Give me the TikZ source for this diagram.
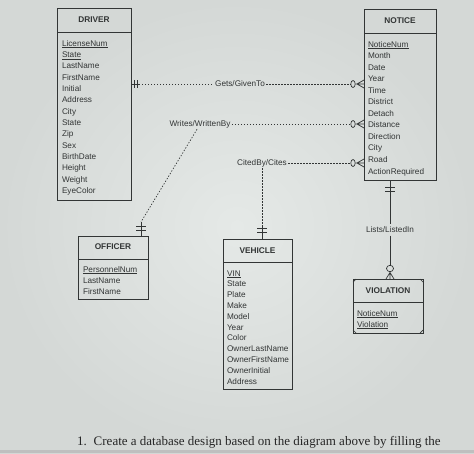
\documentclass[tikz,border=0pt]{standalone}
\usepackage{fontspec}
\setmainfont{Liberation Serif}
\newfontfamily\erfont{Liberation Sans}
\usetikzlibrary{calc}
\definecolor{bgc}{RGB}{229,233,231}
\definecolor{bgout}{RGB}{212,216,214}
\definecolor{ink}{RGB}{50,53,53}
\begin{document}
\begin{tikzpicture}[x=1pt,y=-1pt,
  every node/.style={inner sep=0pt, outer sep=0pt},
  entity/.style={draw=ink, line width=0.8pt, rectangle, anchor=north west},
  hdr/.style={font=\erfont\bfseries\fontsize{8.3}{10}\selectfont, text=ink},
  attr/.style={font=\erfont\fontsize{8.2}{10}\selectfont, text=ink, anchor=base west},
  rel/.style={font=\erfont\fontsize{8.2}{10}\selectfont, text=ink, inner sep=1.5pt},
  dotl/.style={draw=ink, line width=0.7pt, dash pattern=on 1.3pt off 1.7pt},
  solidl/.style={draw=ink, line width=0.7pt},
]
\useasboundingbox (0,0) rectangle (474,453);
\shade[inner color=bgc, outer color=bgout] (0,0) rectangle (474,453);
\fill[black!25] (0,450) rectangle (474,453);

% ---------- entities ----------
\node[entity, minimum width=74pt, minimum height=192pt] (driver) at (57,8) {};
\draw[solidl] ($(driver.north west)+(0,24)$) -- ($(driver.north east)+(0,24)$);
\node[hdr] (driverh) at (94,20) {DRIVER};
\foreach \t [count=\i from 0] in {{\underline{LicenseNum}},{\underline{State}},LastName,FirstName,Initial,Address,City,State,Zip,Sex,BirthDate,Height,Weight,EyeColor}
  \node[attr] (d\i) at (62,46+\i*11.35) {\t};

\node[entity, minimum width=72pt, minimum height=171pt] (notice) at (364,9) {};
\draw[solidl] ($(notice.north west)+(0,24)$) -- ($(notice.north east)+(0,24)$);
\node[hdr] (noticeh) at (400,21) {NOTICE};
\foreach \t [count=\i from 0] in {{\underline{NoticeNum}},Month,Date,Year,Time,District,Detach,Distance,Direction,City,Road,ActionRequired}
  \node[attr] (n\i) at (368,47+\i*11.55) {\t};

\node[entity, minimum width=70pt, minimum height=63pt] (officer) at (78,236) {};
\draw[solidl] ($(officer.north west)+(0,23)$) -- ($(officer.north east)+(0,23)$);
\node[hdr] (officerh) at (113,247) {OFFICER};
\foreach \t [count=\i from 0] in {{\underline{PersonnelNum}},LastName,FirstName}
  \node[attr] (o\i) at (83,272+\i*11) {\t};

\node[entity, minimum width=69pt, minimum height=150pt] (vehicle) at (223,239) {};
\draw[solidl] ($(vehicle.north west)+(0,23)$) -- ($(vehicle.north east)+(0,23)$);
\node[hdr] (vehicleh) at (257.5,251) {VEHICLE};
\begin{scope}
\clip (223,239) rectangle (292,389);
\foreach \t [count=\i from 0] in {{\underline{VIN}},State,Plate,Make,Model,Year,Color,OwnerLastName,OwnerFirstName,OwnerInitial,Address}
  \node[attr] (v\i) at (227,276+\i*10.8) {\t};
\end{scope}

\node[entity, minimum width=70pt, minimum height=54pt] (violation) at (353,279) {};
\draw[solidl] ($(violation.north west)+(0,23)$) -- ($(violation.north east)+(0,23)$);
\draw[solidl] ($(violation.north west)+(3,0)$) -- ($(violation.north west)+(0,3)$)
              ($(violation.north east)+(-3,0)$) -- ($(violation.north east)+(0,3)$)
              ($(violation.south west)+(3,0)$) -- ($(violation.south west)+(0,-3)$)
              ($(violation.south east)+(-3,0)$) -- ($(violation.south east)+(0,-3)$);
\node[hdr] (violationh) at (388,291) {VIOLATION};
\foreach \t [count=\i from 0] in {{\underline{NoticeNum}},{\underline{Violation}}}
  \node[attr] (vi\i) at (357,316+\i*11) {\t};

% ---------- Gets/GivenTo ----------
\node[rel] (gets) at (240,84) {Gets/GivenTo};
\coordinate (gA) at (driver.east |- gets);
\coordinate (gB) at (notice.west |- gets);
\draw[dotl] ($(gA)+(8,0)$) -- (gets.west);
\draw[dotl] (gets.east) -- ($(gB)+(-13.5,0)$);
\draw[solidl] (gA) -- ++(8,0);
\draw[solidl] ($(gA)+(3,-4)$) -- ++(0,8) ($(gA)+(6,-4)$) -- ++(0,8);
\draw[solidl] ($(gB)+(-11,0)$) ellipse (2.2pt and 3.5pt);
\draw[solidl] ($(gB)+(-8.5,0)$) -- (gB) ($(gB)+(-7,0)$) -- ($(gB)+(0,-4)$) ($(gB)+(-7,0)$) -- ($(gB)+(0,4)$);

% ---------- Writes/WrittenBy ----------
\node[rel] (writes) at (200,124) {Writes/WrittenBy};
\coordinate (wB) at (notice.west |- writes);
\coordinate (wO) at ($(officer.north east)+(-7,0)$);
\coordinate (wK) at ($(wO)+(0,-14)$);
\draw[dotl] (writes.east) -- ($(wB)+(-13.5,0)$);
\draw[solidl] ($(wB)+(-11,0)$) ellipse (2.2pt and 3.5pt);
\draw[solidl] ($(wB)+(-8.5,0)$) -- (wB) ($(wB)+(-7,0)$) -- ($(wB)+(0,-4)$) ($(wB)+(-7,0)$) -- ($(wB)+(0,4)$);
\draw[dotl] ($(writes.south)+(-3,0)$) -- (wK);
\draw[solidl] (wK) -- (wO);
\draw[solidl] ($(wO)+(-5,-10)$) -- ++(10,0) ($(wO)+(-5,-6)$) -- ++(10,0);

% ---------- CitedBy/Cites ----------
\node[rel] (cites) at (262,163) {CitedBy/Cites};
\coordinate (cB) at (notice.west |- cites);
\coordinate (cV) at (cites.south |- vehicle.north);
\draw[dotl] (cites.east) -- ($(cB)+(-13.5,0)$);
\draw[solidl] ($(cB)+(-11,0)$) ellipse (2.2pt and 3.5pt);
\draw[solidl] ($(cB)+(-8.5,0)$) -- (cB) ($(cB)+(-7,0)$) -- ($(cB)+(0,-4)$) ($(cB)+(-7,0)$) -- ($(cB)+(0,4)$);
\draw[dotl] (cites.south) -- ($(cV)+(0,-14)$);
\draw[solidl] ($(cV)+(0,-14)$) -- (cV);
\draw[solidl] ($(cV)+(-5,-11)$) -- ++(10,0) ($(cV)+(-5,-7)$) -- ++(10,0);

% ---------- Lists/ListedIn ----------
\node[rel, inner sep=2.5pt] (lists) at (390,230) {Lists/ListedIn};
\coordinate (lN) at (notice.south -| lists);
\coordinate (lV) at (violation.north -| lists);
\draw[solidl] (lN) -- (lists.north);
\draw[solidl] ($(lN)+(-5,7)$) -- ++(10,0) ($(lN)+(-5,11)$) -- ++(10,0);
\draw[solidl] (lists.south) -- ($(lV)+(0,-14)$);
\draw[solidl] ($(lV)+(0,-10.5)$) ellipse (3.5pt and 3.2pt);
\draw[solidl] ($(lV)+(0,-7)$) -- (lV) ($(lV)+(0,-6.5)$) -- ($(lV)+(-4,0)$) ($(lV)+(0,-6.5)$) -- ($(lV)+(4,0)$);

% ---------- question text ----------
\node[anchor=base west, font=\fontsize{13}{15}\selectfont, text=black!85] (q) at (77,445)
  {1.\hspace{7pt}Create a database design based on the diagram above by filling the};
\end{tikzpicture}
\end{document}
